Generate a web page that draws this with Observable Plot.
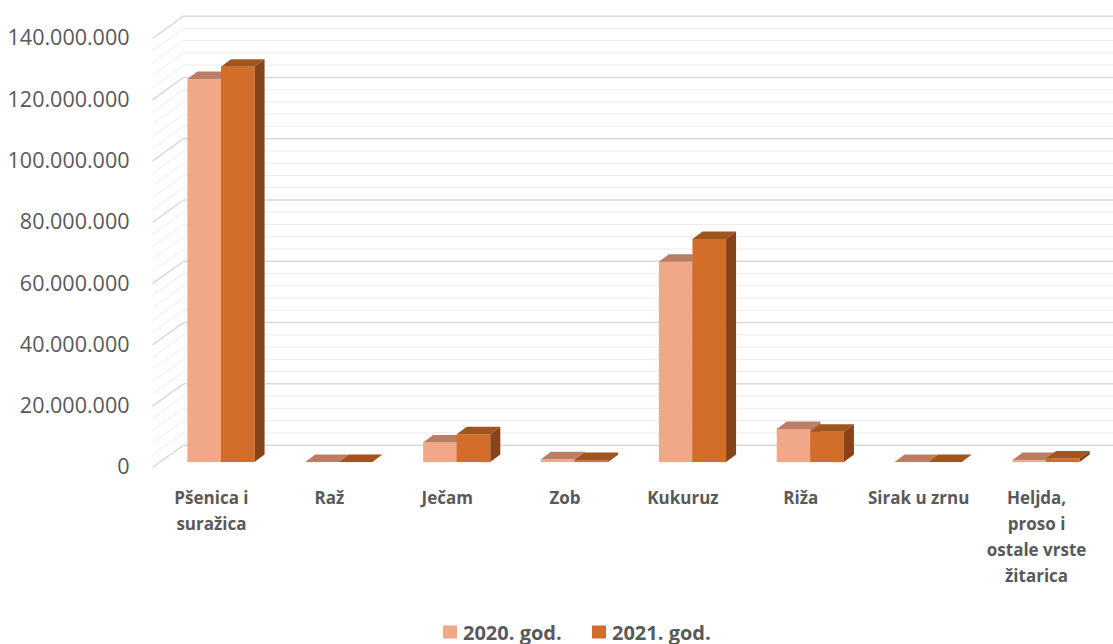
<!DOCTYPE html>
<html>
<head>
<meta charset="utf-8">
<script src="https://cdn.jsdelivr.net/npm/d3@7"></script>
<script src="https://cdn.jsdelivr.net/npm/@observablehq/plot@0.6"></script>
<style>
  body { margin: 0; background: #fff; font-family: "Open Sans", sans-serif; }
  #legend { height: 44px; position: relative; }
  .item { position: absolute; top: 32px; display: flex; align-items: center; font-weight: bold; font-size: 20px; color: #595959; }
  .sw { width: 14px; height: 13px; margin-right: 6px; }
</style>
</head>
<body>
<div id="chart"></div>
<div id="legend"></div>
<script>
// ---- data ----
const categories = ["Pšenica i\nsuražica", "Raž", "Ječam", "Zob", "Kukuruz", "Riža", "Sirak u zrnu", "Heljda,\nproso i\nostale vrste\nžitarica"];
const series = ["2020. god.", "2021. god."];
const values2020 = [125.0e6, 0.05e6, 6.4e6, 0.9e6, 65.4e6, 10.8e6, 0.02e6, 0.65e6];
const values2021 = [129.0e6, 0.06e6, 9.1e6, 0.65e6, 72.8e6, 9.9e6, 0.02e6, 1.2e6];
const yTicks = [0, 20e6, 40e6, 60e6, 80e6, 100e6, 120e6, 140e6];
const minorStep = 4e6;

// ---- styling / geometry constants ----
const colors = {
  "2020. god.": {front: "#F1A889", top: "#BA7E66", side: "#B4704F"},
  "2021. god.": {front: "#D26D2A", top: "#A2541E", side: "#87441A"}
};
const barSpan = {"2020. god.": [-0.2, 0.085], "2021. god.": [0.085, 0.37]};
const base = 1.6e6;      // bars sit slightly behind the front plane
const depthX = 0.085;    // bar depth (x units)
const depthY = 2.45e6;   // bar depth (y units)
const wallX = 0.263;     // back wall offset (x units)
const wallY = 7.3e6;     // back wall offset (y units)

const valuesBySeries = {"2020. god.": values2020, "2021. god.": values2021};
const bars = [];
series.forEach(s => categories.forEach((c, i) => {
  const v = valuesBySeries[s][i];
  bars.push({s, i, x1: i + barSpan[s][0], x2: i + barSpan[s][1], y1: base, y2: base + v});
}));

const fmt = d => d3.format(",")(d).replace(/,/g, ".");
const grid = d3.range(0, 140e6 + 1, minorStep).map(v => ({v, major: Math.abs(v % 20e6) < 1}));

const barMarks = [];
series.forEach(s => {
  const b = bars.filter(d => d.s === s);
  const top = [], side = [];
  b.forEach((d, k) => {
    top.push({id: k, x: d.x1, lo: d.y2, hi: d.y2});
    top.push({id: k, x: d.x1 + depthX, lo: d.y2, hi: d.y2 + depthY});
    top.push({id: k, x: d.x2, lo: d.y2, hi: d.y2 + depthY});
    top.push({id: k, x: d.x2 + depthX, lo: d.y2 + depthY, hi: d.y2 + depthY});
    side.push({id: k, x: d.x2, lo: d.y1, hi: d.y2});
    side.push({id: k, x: d.x2 + depthX, lo: d.y1 + depthY, hi: d.y2 + depthY});
  });
  barMarks.push(Plot.rect(b, {x1: "x1", x2: "x2", y1: "y1", y2: "y2", fill: colors[s].front}));
  barMarks.push(Plot.areaY(top, {x: "x", y1: "lo", y2: "hi", z: "id", fill: colors[s].top, curve: "linear"}));
  barMarks.push(Plot.areaY(side, {x: "x", y1: "lo", y2: "hi", z: "id", fill: colors[s].side, curve: "linear"}));
});

const chart = Plot.plot({
  width: 1113,
  height: 600,
  marginLeft: 152,
  marginRight: 18,
  marginTop: 38,
  marginBottom: 133,
  style: {fontFamily: "Open Sans", color: "#595959", background: "white", overflow: "visible"},
  x: {domain: [-0.5, 7.5], axis: null},
  y: {domain: [0, 140e6], label: null},
  marks: [
    // side wall diagonals
    Plot.link(grid, {x1: -0.5, y1: "v", x2: -0.5 + wallX, y2: d => d.v + wallY,
      stroke: d => d.major ? "#d9d9d9" : "#ececec", strokeWidth: d => d.major ? 1.5 : 1}),
    // back wall horizontal lines
    Plot.link(grid, {x1: -0.5 + wallX, y1: d => d.v + wallY, x2: 7.65, y2: d => d.v + wallY,
      stroke: d => d.major ? "#d9d9d9" : "#ececec", strokeWidth: d => d.major ? 1.5 : 1}),
    ...barMarks,
    Plot.axisY({ticks: yTicks, tickFormat: fmt, tickSize: 0, tickPadding: 23, fontSize: 21.5, fill: "#595959"}),
    Plot.text(categories, {x: (d, i) => i, y: 0, text: d => d, dy: 18, lineAnchor: "top", lineHeight: 1.53,
      fontSize: 17, fontWeight: "bold", fill: "#595959"})
  ]
});
document.getElementById("chart").appendChild(chart);

// legend
const legend = document.getElementById("legend");
const legendX = [443, 592];
series.forEach((s, k) => {
  const it = document.createElement("div");
  it.className = "item";
  it.style.left = legendX[k] + "px";
  it.style.transform = "translateY(-50%)";
  const sw = document.createElement("span");
  sw.className = "sw";
  sw.style.background = colors[s].front;
  it.appendChild(sw);
  it.appendChild(document.createTextNode(s));
  legend.appendChild(it);
});
</script>
</body>
</html>
